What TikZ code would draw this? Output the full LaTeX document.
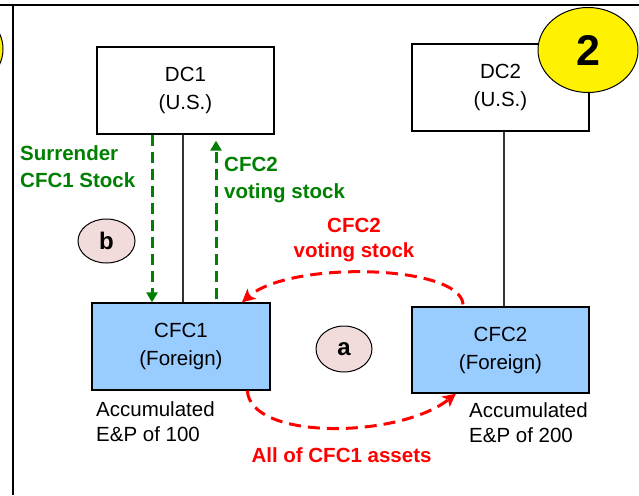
\documentclass[tikz,border=0pt]{standalone}
\usepackage{fontspec}
\setmainfont{Liberation Sans}
\usetikzlibrary{arrows.meta,calc,shapes.geometric}
\definecolor{boxblue}{HTML}{99CCFF}
\definecolor{bubblepink}{HTML}{F2DCDB}
\definecolor{dgreen}{HTML}{008000}
\begin{document}
\begin{tikzpicture}[x=1pt,y=-1pt,
  every node/.style={font=\fontsize{20.5}{28}\selectfont, inner sep=0pt},
  entity/.style={draw=black, line width=1.3pt, minimum width=177pt, minimum height=87pt, align=center},
  foreign/.style={entity, fill=boxblue},
  bubblestyle/.style={ellipse, draw=black, line width=1pt, fill=bubblepink, font=\bfseries\fontsize{24}{26}\selectfont},
  glabel/.style={text=dgreen, font=\bfseries\fontsize{20.5}{27}\selectfont, align=left, anchor=north west},
  rlabel/.style={text=red, font=\bfseries\fontsize{20.5}{25}\selectfont, align=center, anchor=north},
  note/.style={align=left, anchor=north west, font=\fontsize{20.5}{25}\selectfont},
  garrow/.style={draw=dgreen, line width=3pt, dash pattern=on 11pt off 6pt, -{Triangle[length=10pt,width=11pt]}},
  rarrow/.style={draw=red, line width=3pt, dash pattern=on 12pt off 7pt, -{Stealth[length=13pt,width=13pt,inset=3pt]}},
  own/.style={draw=black!80, line width=1.3pt},
  frameline/.style={draw=black, line width=2pt}
]
\useasboundingbox (0,0) rectangle (639,495);

% frame
\coordinate (ftl) at (0,5);
\coordinate (ftr) at (639,5);
\coordinate (fl) at (13,5);
\coordinate (fb) at (13,495);
\draw[frameline] (ftl) -- (ftr);
\draw[frameline] (fl) -- (fb);

% partial marker of previous step
\node[ellipse, draw=black, line width=1pt, fill=yellow, minimum width=98pt, minimum height=84pt] (prev) at (-46,49) {};

% entities
\node[entity] (dc1) at (185.5,90.5) {DC1\\(U.S.)};
\node[entity] (dc2) at (500.5,87.5) {DC2\\(U.S.)};
\node[foreign, minimum width=178pt] (cfc1) at (181,346.5) {CFC1\\(Foreign)};
\node[foreign, minimum height=86pt] (cfc2) at (500.5,350) {CFC2\\(Foreign)};

% step number
\node[ellipse, draw=black, line width=1pt, fill=yellow, minimum width=100pt, minimum height=85pt,
      font=\bfseries\fontsize{43}{46}\selectfont] (step2) at (588,50) {2};

% ownership lines
\coordinate (l1) at (183,0);
\coordinate (l2) at (504,0);
\draw[own] (l1 |- dc1.south) -- (l1 |- cfc1.north);
\draw[own] (l2 |- dc2.south) -- (l2 |- cfc2.north);

% green transfers
\coordinate (g1) at (152,0);
\coordinate (g2) at (216,0);
\draw[garrow] (g1 |- dc1.south) -- (g1 |- cfc1.north);
\draw[garrow, shorten <=3pt, shorten >=6pt] (g2 |- cfc1.north) -- (g2 |- dc1.south);

\node[glabel] (surr) at (20,145) {Surrender\\CFC1 Stock};
\node[glabel] (gvote) at (224,157) {CFC2\\voting stock};

% red transfers
\coordinate (r1s) at ($(cfc2.north west)!0.29!(cfc2.north east)+(0,-2)$);
\coordinate (r1e) at ($(cfc1.north west)!0.84!(cfc1.north east)$);
\coordinate (r2s) at ($(cfc1.south west)!0.87!(cfc1.south east)$);
\coordinate (r2e) at ($(cfc2.south west)!0.25!(cfc2.south east)$);
\draw[rarrow] (r1s) .. controls +(-3,-40) and +(48,-42) .. (r1e);
\draw[rarrow] (r2s) .. controls +(3,50) and +(-57,45) .. (r2e);

\node[rlabel] (rvote) at (354,218) {CFC2\\voting stock};
\node[rlabel] (rassets) at (341.5,447) {All of CFC1 assets};

% bubbles
\node[bubblestyle, minimum width=57pt, minimum height=44pt] (b) at (106.5,241) {b};
\node[bubblestyle, minimum width=56pt, minimum height=46pt] (a) at (344,349) {a};

% E&P notes
\node[note] (ep1) at (96,401) {Accumulated\\E\&P of 100};
\node[note] (ep2) at (469,402) {Accumulated\\E\&P of 200};
\end{tikzpicture}
\end{document}
